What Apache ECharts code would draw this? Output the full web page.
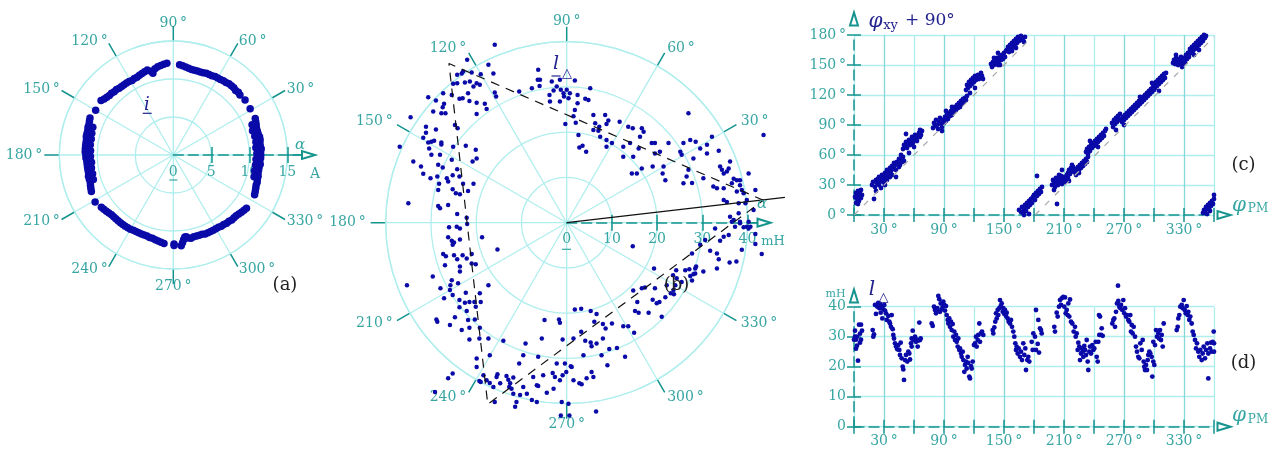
<!DOCTYPE html>
<html>
<head>
<meta charset="utf-8">
<script src="https://cdn.jsdelivr.net/npm/echarts@6/dist/echarts.min.js"></script>
<style>
html,body{margin:0;padding:0;background:#fff}
#chart{width:1281px;height:455px}
</style>
</head>
<body>
<div id="chart"></div>
<script>
// ---------- (a) current space vector i: [angle in degrees, magnitude in A] ----------
const iSegUpperRight = [[86,11.9],[84,11.8],[82,11.7],[80,11.6],[78,11.5],[76,11.5],[74,11.5],[72,11.5],[70,11.5],[68,11.6],[66,11.6],[64,11.6],[62,11.7],[60,11.7],[58,11.7],[56,11.8],[54,11.8],[52,11.9],[50,11.9],[48,11.9],[46,11.8],[44,11.9],[42,11.8],[37.5,11.9],[31,11.8]];
const iSegRight = [[24,11.8],[22,11.7],[20,11.6],[18,11.5],[16,11.5],[14,11.5],[12,11.6],[10,11.6],[8,11.5],[6,11.5],[4,11.6],[2,11.5],[0,11.5],[-2,11.5],[-4,11.4],[-6,11.5],[-8,11.4],[-10,11.4],[-12,11.4],[-14,11.5],[-16,11.5],[-18,11.6],[-20,11.6],[-22,11.7],[-24,11.8],[-26,11.9],
  [21,11.1],[17,10.9],[13,11.0],[9,11.0],[5,10.9],[1,11.0],[-3,10.9],[-7,10.9],[-11,10.9],[-15,11.0]];
const iSegLowerRight = [[275,12.0],[276,11.6],[277,11.2],[278,10.9],[279,10.9],[280,11.1],[282,11.2],[284,11.1],[286,11.1],[288,11.1],[290,11.1],[292,11.2],[294,11.2],[296,11.2],[298,11.2],[300,11.2],[302,11.2],[304,11.3],[306,11.3],[308,11.4],[310,11.4],[312,11.5],[314,11.5],[316,11.5],[318,11.6],[320,11.7],[322,11.8],[324,11.9]];
const iSegLowerLeft = [[211,12.0],[216,11.7],[218,11.6],[220,11.5],[222,11.4],[224,11.3],[226,11.3],[228,11.3],[230,11.3],[232,11.3],[234,11.3],[236,11.3],[238,11.3],[240,11.3],[242,11.2],[244,11.2],[246,11.2],[248,11.2],[250,11.2],[252,11.2],[254,11.3],[256,11.3],[258,11.4],[260,11.5],[262,11.6],[264,11.7],[270.5,11.7],[270.5,11.9]];
const iSegLeft = [[150,11.8],[156,12.0],[158,11.9],[160,11.8],[162,11.8],[164,11.7],[166,11.7],[168,11.7],[170,11.6],[172,11.6],[174,11.6],[176,11.6],[178,11.6],[180,11.5],[182,11.5],[184,11.4],[186,11.4],[188,11.4],[190,11.4],[192,11.4],[194,11.5],[196,11.5],[198,11.5],[200,11.6],[202,11.7],[204,11.8],
  [161,11.2],[165,11.1],[169,11.0],[173,11.0],[177,10.9],[181,10.9],[185,10.8],[189,10.9],[193,10.9],[197,11.0]];
const iSegUpperLeft = [[143,11.9],[141,11.7],[139,11.6],[137,11.5],[135,11.5],[133,11.4],[131,11.4],[129,11.3],[127,11.3],[125,11.3],[123,11.3],[121,11.3],[119,11.2],[117,11.3],[115,11.3],[113,11.4],[111,11.5],[109,11.6],[107,11.7],[105,11.4],[104,11.1],[102,11.6],[100,11.8],[98,11.9],[96,12.0],[94,12.1]];

// ---------- (b) inductance vector l_delta: [alpha, beta] components in mH ----------
const lUpperLeft = [[-15.9,39.3],[-22.0,36.0],[-17.3,34.9],[-19.0,32.8],[-16.2,33.0],[-22.9,33.4],[-21.0,33.2],[-24.2,32.7],[-23.2,33.0],[-25.1,30.7],[-24.2,30.8],[-22.5,31.0],[-21.4,31.2],[-19.9,30.8],[-19.2,30.5],[-20.6,30.1],[-21.8,28.6],[-23.0,27.5],[-23.7,27.4],[-25.4,28.2],[-27.3,28.6],[-30.6,27.7],[-28.9,27.0],[-27.1,26.3],[-27.4,25.5],[-27.7,24.2],[-26.8,24.2],[-29.5,24.6],[-21.5,26.9],[-19.9,26.5],[-18.1,26.3],[-17.7,25.1],[-19.9,24.0],[-24.7,21.6],[-24.1,20.9],[-31.1,21.2],[-31.1,19.9],[-28.9,20.6],[-31.7,18.8],[-30.6,17.7],[-29.9,17.9],[-29.3,18.1],[-27.7,17.7],[-27.7,17.3],[-30.4,16.4],[-25.1,16.8],[-22.3,17.0],[-20.1,16.1],[-19.9,14.2],[-20.8,13.5],[-29.9,15.0],[-28.0,15.0],[-33.9,13.5],[-32.2,12.4],[-28.4,12.8],[-27.4,12.2],[-25.4,13.9],[-24.2,11.8],[-25.2,10.5],[-23.7,10.2],[-31.7,10.8],[-30.1,9.8],[-28.6,10.2],[-26.5,9.8],[-26.2,9.1],[-28.2,8.6],[-22.9,8.6],[-20.6,8.6],[-28.4,7.2],[-25.2,7.4],[-24.5,6.5],[-23.6,6.3],[-21.8,7.0],[-35.0,4.3],[-28.4,3.7],[-28.0,3.2],[-26.2,3.9],[-24.2,1.9],[-22.1,1.1],[-36.9,16.8],[-34.5,23.3],[-10.5,29.0],[-15.9,28.8],[-15.6,27.9]];
const lUpperRight = [[-6.3,33.8],[-6.4,31.6],[-5.9,31.6],[-6.0,30.2],[-7.7,29.7],[-3.3,31.2],[-2.9,29.2],[-2.2,30.1],[-1.5,31.6],[-1.3,29.4],[-0.7,28.6],[-0.6,27.9],[0,29.4],[0.7,28.6],[0.4,27.5],[1.8,31.4],[2.4,28.2],[2.4,26.4],[1.8,24.9],[-3.8,28.2],[-3.7,26.8],[-1.5,26.8],[-0.3,21.8],[1.5,23.5],[2.0,22.1],[2.6,19.4],[2.8,16.6],[3.5,17.0],[4.3,15.7],[5.2,29.7],[4.1,27.4],[4.8,27.1],[5.9,23.8],[6.3,22.0],[8.5,23.8],[8.8,21.8],[9.2,22.6],[7.2,21.2],[5.9,20.5],[7.4,19.0],[8.8,18.3],[10.0,17.6],[8.8,16.8],[7.0,20.3],[11.7,22.3],[13.6,21.2],[14.6,20.9],[16.6,20.9],[17.0,20.1],[16.2,19.0],[14.0,17.6],[12.5,16.8],[15.9,16.4],[18.8,17.6],[19.5,17.6],[20.6,15.7],[22.5,17.6],[19.5,15.3],[12.5,14.6],[14.7,14.6],[15.5,10.9],[14.4,10.9],[16.6,12.0],[19.0,12.4],[21.4,12.4],[21.2,10.9],[21.8,9.4],[25.1,15.7],[25.8,17.6],[26.9,24.2],[25.4,15.0],[27.3,18.3],[28.5,17.9],[29.5,16.4],[31.0,17.2],[31.0,15.3],[33.6,15.9],[28.0,14.2],[26.9,11.7],[26.5,10.2],[27.7,8.8],[25.8,8.7],[32.1,19.0],[30.2,9.8],[33.9,12.4],[34.3,11.7],[34.7,10.9],[35.8,12.0],[36.1,13.5],[35.4,11.3],[36.9,9.7],[37.6,9.4],[38.3,9.4],[36.5,8.7],[38.3,8.3],[38.7,7.2],[39.1,6.5],[39.8,5.0],[39.5,4.3],[38.0,4.3],[35.4,4.6],[34.7,5.0],[40.2,10.9],[41.7,7.2],[37.6,6.9],[32.4,8.0],[33.2,7.6],[34.7,7.6],[43.5,19.4],[36.1,1.3],[36.9,0.6],[38.3,0.2],[38.0,2.1],[41.3,2.8]];
const lLower = [[-26.0,-1.0],[-24.3,-0.9],[-23.6,-1.3],[-22.0,-0.3],[-26.2,-3.2],[-25.4,-4.0],[-24.9,-4.4],[-23.6,-3.7],[-25.2,-4.9],[-27.3,-6.9],[-26.7,-7.4],[-24.9,-7.2],[-23.0,-7.2],[-21.0,-6.9],[-24.2,-8.1],[-22.1,-7.9],[-21.0,-9.0],[-20.1,-9.2],[-26.9,-9.4],[-23.6,-9.7],[-23.6,-10.8],[-29.6,-11.9],[-25.4,-12.7],[-25.7,-13.8],[-24.0,-13.4],[-25.8,-14.9],[-27.9,-14.5],[-27.1,-16.7],[-25.2,-16.0],[-22.3,-15.5],[-19.2,-15.6],[-17.3,-13.8],[-23.7,-17.1],[-22.5,-17.7],[-21.5,-17.5],[-20.4,-17.5],[-19.0,-17.5],[-23.7,-18.7],[-22.1,-19.5],[-20.1,-18.6],[-21.8,-21.5],[-20.3,-21.4],[-28.8,-21.4],[-28.6,-21.9],[-24.7,-20.9],[-25.8,-22.6],[-23.2,-23.7],[-21.5,-23.2],[-19.2,-23.2],[-19.3,-25.6],[-17.3,-25.6],[-21.5,-25.8],[-19.9,-30.0],[-19.9,-31.9],[-17.0,-29.3],[-14.0,-26.1],[-15.3,-5.9],[-18.7,-3.2],[-35.3,-13.8],[-29.1,-37.4],[-26.2,-34.4],[-25.2,-33.3],[-19.3,-35.0],[-19.0,-35.2],[-18.4,-33.7],[-17.7,-34.8],[-17.0,-35.4],[-15.5,-34.1],[-16.2,-36.3],[-15.9,-39.6],[-14.7,-35.5],[-15.3,-33.5],[-13.3,-33.9],[-12.9,-34.7],[-12.5,-35.5],[-12.2,-36.7],[-11.8,-34.2],[-12.7,-36.3],[-11.8,-37.8],[-11.1,-39.6],[-10.3,-38.1],[-11.4,-40.7],[-9.6,-36.3],[-8.8,-37.8],[-7.7,-39.2],[-6.6,-39.6],[-7.4,-34.1],[-6.6,-35.9],[-6.3,-36.1],[-5.2,-33.7],[-4.4,-37.6],[-3.1,-33.2],[-2.9,-36.7],[-2.6,-34.1],[-2.2,-31.1],[-1.5,-34.8],[-1.1,-39.6],[-0.4,-31.1],[-0.1,-33.0],[-0.9,-33.7],[0.4,-40.0],[0.9,-31.7],[1.1,-31.9],[1.5,-34.8],[0.6,-42.6],[-1.3,-42.6],[3.3,-35.7],[4.4,-34.4],[3.7,-29.3],[6.5,-41.7],[2.8,-35.5],[5.5,-33.0],[5.9,-34.1],[-9.6,-29.3],[-10.5,-31.1],[-6.3,-29.6],[-5.5,-25.6],[-9.1,-26.7],[-4.9,-21.5],[-1.7,-21.4],[-1.5,-22.1],[-0.9,-25.8],[1.5,-25.6],[1.8,-19.2],[3.2,-19.0],[5.3,-19.5],[6.6,-20.2],[3.2,-24.1],[4.1,-26.1],[5.3,-26.5],[6.6,-26.7],[5.5,-27.3],[6.1,-21.9],[8.0,-22.4],[8.6,-23.4],[10.0,-22.3],[8.0,-25.6],[9.4,-27.9],[11.1,-27.7],[7.7,-29.3],[9.0,-31.5],[12.5,-22.9],[13.6,-22.9],[14.9,-24.3],[12.9,-29.6]];
const lLowerRight = [[14.6,-5.2],[19.3,-10.1],[14.7,-15.0],[16.6,-14.5],[17.3,-14.3],[15.6,-17.5],[15.1,-19.5],[15.9,-19.9],[18.1,-19.9],[19.0,-17.0],[19.5,-14.5],[19.9,-17.8],[20.5,-17.5],[21.0,-20.8],[21.8,-16.5],[22.1,-13.8],[23.0,-15.6],[23.6,-14.9],[24.0,-13.8],[24.2,-10.5],[23.5,-11.6],[24.3,-12.3],[23.7,-15.8],[25.4,-13.1],[26.2,-10.5],[27.1,-10.3],[27.3,-11.8],[27.7,-12.8],[28.4,-10.1],[28.6,-9.7],[28.4,-11.2],[28.0,-11.4],[30.2,-10.8],[31.7,-6.2],[33.2,-6.8],[33.2,-10.1],[33.6,-8.1],[36.0,-8.8],[37.5,-8.6],[32.8,-1.3],[35.8,-2.7],[37.2,-0.9],[38.3,-0.1],[39.1,-1.0],[39.8,-0.9],[40.2,-1.3],[40.6,-0.9],[41.7,-2.5],[41.7,-4.7],[43.1,-6.9],[38.7,-6.0],[36.5,0.2],[40.2,0.2],[33.9,-4.0],[34.7,-3.1],[27.7,-6.8],[29.5,-4.9],[30.6,-3.8]];

// idealised inductance triangle (radius mH, angle deg) and the reference direction
const triangleR = [43.8, 43.8, 43.8, 43.8];
const triangleAngle = [6.5, 126.5, 246.5, 6.5];
const refRayR = [0, 48.6];
const refRayAngle = [6.6, 6.6];

// ---------- (c) phi_xy + 90 deg versus phi_PM: [phi_PM, value] in degrees ----------
const phiXY = [
 [1,18],[2,22],[3,16],[3,20],[4,24],[5,19],[5,14],[6,21],[7,17],[7,25],[8,20],[2,12],[4,11],[6,18],
 [18,30],[19,33],[20,16],[21,28],[22,35],[23,32],[24,36],[25,30],[25,38],[26,34],[27,27],[28,36],[28,40],[29,33],[30,37],[31,30],[31,42],[32,38],[33,35],[34,44],[35,40],[36,38],[22,24],[27,38],[30,34],
 [32,40],[33,45],[35,42],[36,47],[37,44],[38,49],[39,46],[40,48],[40,52],[41,50],[42,45],[43,53],[44,51],[45,56],[46,50],[47,55],[48,53],[49,58],[50,54],[38,40],[42,38],[45,48],[47,60],[34,38],
 [49,66],[50,70],[51,68],[52,73],[53,67],[54,71],[55,75],[56,70],[57,74],[58,78],[59,72],[60,76],[61,80],[62,77],[63,74],[64,79],[65,82],[66,78],[67,80],[68,84],[52,81],[55,62],[60,68],[66,85],
 [79,87],[80,92],[81,89],[82,95],[83,90],[84,86],[85,93],[86,97],[87,91],[88,88],[89,95],[90,92],[91,98],[92,94],[93,100],[94,96],[95,102],[96,99],[97,104],[98,100],[99,106],[100,103],[101,108],[102,105],[103,110],[104,107],[105,112],[106,108],[107,114],[108,111],[109,116],[110,113],[111,117],[112,115],[113,119],[88,84],[92,104],[98,108],
 [112,125],[113,130],[114,127],[115,133],[116,129],[117,135],[118,131],[119,137],[120,133],[121,139],[122,135],[123,137],[124,140],[125,136],[126,138],[127,142],[128,139],[129,136],[116,122],[121,127],
 [137,151],[138,148],[139,153],[140,150],[141,155],[142,152],[143,157],[144,150],[145,154],[146,158],[147,155],[148,160],[149,156],[150,162],[151,158],[152,164],[140,157],[144,162],[146,150],
 [153,165],[154,168],[155,163],[156,170],[157,166],[158,172],[159,168],[160,174],[161,170],[162,176],[163,172],[164,178],[165,174],[166,176],[167,179],[168,175],[169,177],[170,173],[171,178],[158,164],[162,167],
 [165,5],[167,3],[168,8],[169,2],[170,6],[171,10],[172,4],[173,12],[174,8],[175,14],[176,10],[177,16],[178,12],[179,18],[180,20],[181,15],[182,22],[183,19],[184,24],[185,21],[186,26],[187,23],[188,28],[183,39],[170,0],[175,1],
 [198,30],[199,35],[200,32],[201,28],[202,37],[203,33],[204,30],[205,36],[206,34],[207,39],[208,31],[209,35],[210,38],[211,33],[212,36],[213,40],[214,37],[215,34],[203,11],[200,25],[205,40],[208,45],
 [214,42],[215,45],[216,41],[217,47],[218,44],[219,48],[220,43],[221,46],[222,40],[223,44],[224,48],[225,45],[226,50],[227,47],[228,52],[229,49],[230,54],[231,51],[232,56],[233,53],[234,58],[218,50],[225,42],
 [232,63],[233,66],[234,61],[235,68],[236,64],[237,70],[238,67],[239,72],[240,69],[241,74],[242,71],[243,76],[244,73],[245,78],[246,75],[247,80],[248,77],[249,82],[250,79],[251,84],[252,86],[236,74],[244,68],
 [258,92],[259,88],[260,95],[261,91],[262,97],[263,93],[264,99],[265,95],[266,101],[267,96],[268,93],[269,98],[270,95],[271,100],[272,97],[273,102],[274,99],[275,104],[276,101],[277,106],[278,103],[279,108],[280,105],[281,110],[282,107],[283,112],[284,109],[285,114],[286,111],[262,85],[270,90],
 [287,116],[288,113],[289,118],[290,115],[291,120],[292,117],[293,122],[294,119],[295,124],[296,121],[297,126],[298,123],[299,128],[300,125],[286,118],
 [300,130],[301,127],[302,133],[303,129],[304,135],[305,131],[306,137],[307,133],[308,139],[309,135],[310,141],[311,137],[312,142],[305,124],[298,132],
 [319,152],[320,155],[321,151],[322,157],[323,153],[324,150],[325,156],[326,152],[327,158],[328,154],[329,151],[330,157],[331,153],[332,160],[333,156],[334,162],[335,158],[336,164],[322,160],[328,148],
 [336,166],[337,162],[338,168],[339,164],[340,170],[341,166],[342,172],[343,168],[344,174],[345,170],[346,176],[347,172],[348,178],[349,174],[350,180],[351,177],[352,179],[340,160],[345,165],
 [349,2],[350,5],[351,3],[352,8],[353,6],[354,10],[355,7],[356,12],[357,9],[358,14],[359,11],[360,16],[360,20],[353,1],[356,4]
];
// guide lines phi_xy + 90 = phi_PM (mod 180)
const guideA = [[0,0],[178,178]];
const guideB = [[181,0],[360,178]];

// ---------- (d) |l_delta| versus phi_PM: [phi_PM deg, mH] ----------
const lDelta = [
 [1,32],[2,29],[3,27],[2,26],[4,22],[5,34],[6,31],[7,29],[8,32],[1,30],[3,30],[6,28],[7,34],[0,29],
 [18.7,32.2],[19.3,30],[20,30.8],[21,40.6],[22,37.6],[23.3,40],[24.3,41.3],[25.3,39.5],[26,40.9],[26.7,38],[27.7,40],[28.3,36.1],[29.3,39.1],[30.3,40.6],[31,38.7],[32,37.8],[32.7,35.6],[34.3,36.9],[35.3,35],[36,34.4],[37,33.3],[37.7,37.2],[38.7,32.5],[39.3,30.6],[40,29.4],[41,27.8],
 [42,26.7],[43.3,25.8],[44.3,27.2],[45.3,25.6],[46,23.9],[46.7,28],[47.7,22.8],[48.7,20],[49.3,19.1],[50,15.6],[51,22.2],[52,23.9],[53.3,21.7],[54.3,25],[55.3,24.4],[56,22.4],[57,27.8],[57.7,26.7],
 [57.7,29.4],[58.7,32],[59.3,28.9],[61,30],[62,28.3],[62.7,29.1],[63.7,26.7],[64.3,28.7],[65.3,34.7],[66,28.9],[66.7,29.4],
 [77.7,34.4],[78.7,33.6],[80,40],[81,38.9],[82,37.8],[82.7,38.7],[83.3,39.5],[84.3,43.6],[85.3,42.5],[86,38.3],[86.7,41.1],[87.7,39.1],[88.7,40],[89.3,41.7],[90.3,40.6],[91,38.7],[92,40.2],
 [92.7,37.2],[93.7,35.6],[94.3,34.4],[95.3,36.1],[96,33.3],[97,35],[97.7,32.2],[98.7,34.2],[99.3,30],[100.3,31.7],[101,28.9],[102,30.6],[102.7,28.3],[103.7,26.7],[104.3,29.4],[105.3,25.6],[106,26.1],[107,24.4],[107.7,23.3],[108.7,25],[109.3,22.2],[110.3,18.3],[111,20.6],[112,21.7],[112.7,19.4],[113.7,23.3],[114.3,21.3],[115.3,16.7],[116,16.1],[117,20.2],[117.7,19.4],[118.7,21.7],
 [120,27.2],[121,27.8],[122,30],[122.7,26.7],[123.7,28.9],[124.3,30.6],[125.3,34.4],[126,28.3],[127,31.1],[128,31.7],[129.3,30.6],
 [138.7,32.2],[139.3,31.1],[140.3,33.1],[141.3,35],[142,37.8],[142.7,36.1],[143.7,38.9],[144.3,37.2],[145.3,39.5],[146,42.2],[146.7,40.2],[147.7,41.1],[148.7,38.3],[149.3,39.5],[150.3,37.6],[151,38.9],[152,36.9],[152.7,38],
 [153.7,36.1],[154.7,35],[156,34.4],[157,35.6],[158,33.3],[159.3,31.7],[160.3,30],[161.3,27.8],[162,25.6],[162.7,26.7],[163.7,24.4],[164.7,26.1],[166,23.3],[167,25],[168,22.2],[169.3,27.8],[170.3,23.9],[171.3,26.1],[172,18.9],[173.3,22.2],[174.3,23.3],[175.3,21.7],
 [177.7,28.3],[179.3,31.1],[181,30],[178.7,25.6],[182,38.9],[184.3,35.6],[186,32.8],[187.7,31.1],[183.7,27.6],[185,24.7],[182,25.6],[187,32.2],
 [200.3,33.3],[201,31.7],[202.7,38],[203.7,36.7],[205,40],[206,42.2],[207,40.6],[207.7,42.8],[209.3,43.3],[210.3,40],[211,43.1],[211.7,37.8],[212.7,38.9],[213.7,37.2],[214.3,41.1],[215.3,36.7],[216,42.4],
 [217,35],[218.3,34.4],[219.7,31.7],[221,33.3],[221.7,30],[222.7,31.1],[223.7,25.6],[224.3,28],[225.3,26.7],[226,22.2],[227,24.4],[227.7,26.1],[228.7,25],[229.3,23.3],[230.3,26.9],[231,25.6],[232,23.9],[232.7,28.9],[233.7,21.7],[234.3,18.9],[235.3,25],[236,26.7],[237,24.4],[238.3,27.2],[239.3,25.6],[240.3,26.1],[241.7,28.3],[242.7,23.3],[243.7,21.7],[244.3,28.3],
 [245.3,30.6],[246,36.7],[247,30.6],[247.7,32.8],[248.7,30.3],[245,37.2],
 [258.3,34.4],[259.3,35.6],[260.3,36.1],[261,33.3],[262,38.3],[263,41.1],[264.3,41.9],[265.3,40],[266.3,39.5],[267,40.6],[268.3,38.9],[269.3,42.2],[270.3,37.8],[271,39.5],[272,36.7],[273,37.2],[274.3,35.6],[275.3,35],[276.3,37.2],[277,31.7],[277.7,33.9],[278.7,31.1],[279.7,33.3],[264,47],
 [281,30],[282,26.7],[283,25],[284.3,23.3],[285.3,22.8],[286.3,27.8],[287.7,25.6],[288.7,28.9],[289.7,21.7],[290.3,20],[291,18.9],[292,20.6],[293,18.9],[293.7,22.2],[294.3,23.9],[295.3,25],[296.3,24.4],[297.7,23.3],[298.3,16.7],[299.3,21.7],[300.3,20.6],
 [299.3,28.3],[301,27.2],[302,32.2],[303,30],[304.3,31.1],[305,29.4],[306,32.2],[307,28.9],[307.7,30.6],[308.7,26.7],[309.7,34.4],
 [322.7,32.2],[323.7,33.3],[324.3,36.1],[325.3,37.2],[326.3,40],[327.7,40.6],[328.7,39.5],[329.7,42.2],[330.7,38.9],[331.7,37.8],[332.7,40.2],[333.7,37.2],[334.3,38.3],[335.3,35.6],[336.3,36.7],[337.7,34.4],
 [338.7,31.7],[339.7,30.6],[341,28.9],[342,26.1],[343,27.8],[344.3,25],[345.3,23.3],[346.3,25.6],[347.7,22.2],[348.7,24.4],[349.7,26.7],[351,22.8],[354.3,16.1],
 [352,25.6],[353.3,27.8],[354.3,24.4],[356,26.1],[357,28],[357.7,25],[358.7,28.3],[359.7,31.7],[360,27.8],[360,25]
];

// axis ticks and labels
const iTicks = [5, 10, 15];
const lTicks = [10, 20, 30, 40];

// ---------- styling ----------
const GRID_LIGHT = '#b0eeee';
const GRID_MID = '#84d8d6';
const AXIS_DARK = '#14948e';
const TICK_TEXT = '#37a6a2';
const DOT = '#0a0aa8';
const NAVY = '#22228e';
const SERIF = '"DejaVu Serif", serif';
const deg = v => v + '\u2009°';
const norm = a => ((a % 360) + 360) % 360;
const rad = a => a * Math.PI / 180;

// polar data
const ringData = [iSegUpperRight, iSegRight, iSegLowerRight, iSegLowerLeft, iSegLeft, iSegUpperLeft]
  .flat().map(([a, r]) => [r, norm(a)]);
const lData = [lUpperLeft, lUpperRight, lLower, lLowerRight].flat()
  .map(([x, y]) => [Math.hypot(x, y), norm(Math.atan2(y, x) * 180 / Math.PI)]);
// triangle and ray reach beyond the 40 mH rim, so they go on an unclipped alpha/beta plane
const triXY = triangleR.map((r, i) => [r * Math.cos(rad(triangleAngle[i])), r * Math.sin(rad(triangleAngle[i]))]);
const rayXY = refRayR.map((r, i) => [r * Math.cos(rad(refRayAngle[i])), r * Math.sin(rad(refRayAngle[i]))]);

function angleAxis(polarIndex, margin) {
  return {
    polarIndex, type: 'value', min: 0, max: 360, interval: 30, startAngle: 0, clockwise: false,
    axisLine: { show: true, lineStyle: { color: GRID_LIGHT, width: 1.3 } },
    axisTick: { show: true, length: 15, lineStyle: { color: AXIS_DARK, width: 1.5 } },
    splitLine: { show: true, lineStyle: { color: GRID_LIGHT, width: 1.3 } },
    axisLabel: { show: true, margin, color: TICK_TEXT, fontFamily: SERIF, fontSize: 14, lineHeight: 1,
      formatter: v => (v % 360 === 0 ? '' : deg(v)) }
  };
}
function radiusAxis(polarIndex, max, interval) {
  return {
    polarIndex, type: 'value', min: 0, max, interval,
    axisLine: { show: false }, axisTick: { show: false }, axisLabel: { show: false },
    splitLine: { show: true, lineStyle: { color: GRID_LIGHT, width: 1.3 } }
  };
}
const tickLine = { color: AXIS_DARK, width: 1.5 };
// horizontal magnitude axis drawn through the pole of a polar diagram
function poleAxes(gridIndex, max, ticks) {
  return [{
    type: 'value', gridIndex, min: 0, max, position: 'bottom',
    axisLine: { show: true, onZero: false, lineStyle: { color: AXIS_DARK, width: 1.5, type: [10, 5] },
      symbol: ['none', 'emptyTriangle'], symbolSize: [8, 13] },
    axisTick: { show: true, customValues: ticks, length: 8, lineStyle: tickLine },
    axisLabel: { show: true, customValues: [0].concat(ticks), margin: 10, color: TICK_TEXT, fontFamily: SERIF, fontSize: 14 },
    splitLine: { show: false }
  }, {
    type: 'value', gridIndex, min: 0, max, position: 'bottom',
    axisLine: { show: false }, axisLabel: { show: false }, splitLine: { show: false },
    axisTick: { show: true, inside: true, customValues: ticks, length: 8, lineStyle: tickLine }
  }];
}
function phiAxes(gridIndex) {
  return [{
    type: 'value', gridIndex, min: 0, max: 360, interval: 30, position: 'bottom',
    axisLine: { show: true, onZero: false, lineStyle: { color: AXIS_DARK, width: 1.5, type: [10, 5] },
      symbol: ['none', 'emptyTriangle'], symbolSize: [8, 13], symbolOffset: [0, 10] },
    axisTick: { show: true, length: 7, lineStyle: tickLine },
    axisLabel: { show: true, margin: 8, color: TICK_TEXT, fontFamily: SERIF, fontSize: 14,
      formatter: v => (v % 60 === 30 ? deg(v) : '') },
    splitLine: { show: true, lineStyle: { color: [GRID_LIGHT, GRID_MID], width: 1.3 } }
  }, {
    type: 'value', gridIndex, min: 0, max: 360, interval: 30, position: 'bottom',
    axisLine: { show: false }, axisLabel: { show: false }, splitLine: { show: false },
    axisTick: { show: true, inside: true, length: 7, lineStyle: tickLine }
  }];
}
function valueAxes(gridIndex, max, interval, fmt, arrowOffset) {
  return [{
    type: 'value', gridIndex, min: 0, max, interval, position: 'left',
    axisLine: { show: true, onZero: false, lineStyle: { color: AXIS_DARK, width: 1.5, type: [10, 5] },
      symbol: ['none', 'emptyTriangle'], symbolSize: [8, 13], symbolOffset: [0, arrowOffset] },
    axisTick: { show: true, length: 7, lineStyle: tickLine },
    axisLabel: { show: true, margin: 8, color: TICK_TEXT, fontFamily: SERIF, fontSize: 14, formatter: fmt },
    splitLine: { show: true, lineStyle: { color: GRID_LIGHT, width: 1.3 } }
  }, {
    type: 'value', gridIndex, min: 0, max, interval, position: 'left',
    axisLine: { show: false }, axisLabel: { show: false }, splitLine: { show: false },
    axisTick: { show: true, inside: true, length: 7, lineStyle: tickLine }
  }];
}
const hiddenAxis = (gridIndex, min, max) => ({ type: 'value', gridIndex, min, max, show: false });

function txt(x, y, text, font, fill, align) {
  align = align || 'center';
  return { type: 'text', x, y, z: 100,
    style: { text, font, fill, textAlign: align, align, textVerticalAlign: 'middle', verticalAlign: 'middle' } };
}
function rule(x1, x2, y, stroke) {
  return { type: 'line', z: 100, shape: { x1, y1: y, x2, y2: y }, style: { stroke, lineWidth: 1.2 } };
}
const dotStyle = { color: DOT, opacity: 1 };

const option = {
  animation: false,
  backgroundColor: '#fff',
  polar: [
    { center: [173.3, 155], radius: 114 },
    { center: [566.7, 222.7], radius: 181 }
  ],
  angleAxis: [angleAxis(0, 17), angleAxis(1, 20)],
  radiusAxis: [radiusAxis(0, 15, 5), radiusAxis(1, 40, 10)],
  grid: [
    { left: 173.3, top: 145, width: 135.2, height: 10 },
    { left: 566.7, top: 212.7, width: 197.3, height: 10 },
    { left: 854, top: 35, width: 360, height: 180 },
    { left: 854, top: 306.7, width: 360, height: 120 },
    // alpha/beta plane of diagram (b), 4.52 px per mH, centred on its pole
    { left: 345.22, top: 1.22, width: 442.96, height: 442.96 }
  ],
  xAxis: [].concat(poleAxes(0, 17.79, iTicks), poleAxes(1, 43.65, lTicks), phiAxes(2), phiAxes(3),
    [hiddenAxis(4, -49, 49)]),
  yAxis: [hiddenAxis(0, 0, 1), hiddenAxis(1, 0, 1)].concat(
    valueAxes(2, 180, 30, deg, 16),
    valueAxes(3, 40, 10, v => String(v), 10.7),
    [hiddenAxis(4, -49, 49)]),
  series: [
    { type: 'scatter', coordinateSystem: 'polar', polarIndex: 0, data: ringData, symbolSize: 7.5,
      itemStyle: dotStyle, clip: false, silent: true },
    { type: 'line', xAxisIndex: 8, yAxisIndex: 6, data: triXY, symbol: 'none', clip: false,
      lineStyle: { color: '#111', width: 1.2, type: [9, 7] }, silent: true },
    { type: 'line', xAxisIndex: 8, yAxisIndex: 6, data: rayXY, symbol: 'none', clip: false,
      lineStyle: { color: '#111', width: 1.2 }, silent: true },
    { type: 'scatter', coordinateSystem: 'polar', polarIndex: 1, data: lData, symbolSize: 4.5,
      itemStyle: dotStyle, clip: false, silent: true },
    { type: 'line', xAxisIndex: 4, yAxisIndex: 2, data: guideA, symbol: 'none',
      lineStyle: { color: '#a8a8a8', width: 1.2, type: [6, 8] }, silent: true },
    { type: 'line', xAxisIndex: 4, yAxisIndex: 2, data: guideB, symbol: 'none',
      lineStyle: { color: '#a8a8a8', width: 1.2, type: [6, 8] }, silent: true },
    { type: 'scatter', xAxisIndex: 4, yAxisIndex: 2, data: phiXY, symbolSize: 4.8,
      itemStyle: dotStyle, clip: false, silent: true },
    { type: 'scatter', xAxisIndex: 6, yAxisIndex: 4, data: lDelta, symbolSize: 4.8,
      itemStyle: dotStyle, clip: false, silent: true }
  ],
  graphic: [
    // (a)
    txt(147, 105, 'i', 'italic 18px ' + SERIF, NAVY),
    rule(142.7, 151.7, 113.3, NAVY),
    rule(169.3, 177.3, 180, TICK_TEXT),
    txt(300, 145, 'α', 'italic 15px ' + SERIF, TICK_TEXT),
    txt(315, 174, 'A', '14px ' + SERIF, TICK_TEXT),
    txt(285, 285, '(a)', '18px ' + SERIF, '#222'),
    // (b)
    txt(556, 64, 'l', 'italic 19px ' + SERIF, NAVY),
    rule(551.5, 560.5, 76, NAVY),
    txt(567, 73.5, '△', '13px "DejaVu Sans"', NAVY),
    rule(562, 571, 249.3, TICK_TEXT),
    txt(762, 204, 'α', 'italic 15px ' + SERIF, TICK_TEXT),
    txt(773, 242, 'mH', '13px ' + SERIF, TICK_TEXT),
    txt(676.5, 285, '(b)', '18px ' + SERIF, '#222'),
    // (c)
    txt(875.5, 22, 'φ', 'italic 20px ' + SERIF, NAVY),
    txt(890.5, 26, 'xy', '13px ' + SERIF, NAVY),
    txt(905, 21, '+ 90°', '17px ' + SERIF, NAVY, 'left'),
    txt(1239, 205.5, 'φ', 'italic 20px ' + SERIF, TICK_TEXT),
    txt(1258, 209, 'PM', '12px ' + SERIF, TICK_TEXT),
    txt(1243.5, 165, '(c)', '18px ' + SERIF, '#222'),
    // (d)
    txt(835.5, 294, 'mH', '11px ' + SERIF, TICK_TEXT),
    txt(872, 290, 'l', 'italic 20px ' + SERIF, NAVY),
    txt(883.5, 297.5, '△', '13px "DejaVu Sans"', NAVY),
    txt(1239, 416, 'φ', 'italic 20px ' + SERIF, TICK_TEXT),
    txt(1258, 420, 'PM', '12px ' + SERIF, TICK_TEXT),
    txt(1243.5, 363, '(d)', '18px ' + SERIF, '#222')
  ]
};

const chart = echarts.init(document.getElementById('chart'), null, { renderer: 'canvas' });
chart.setOption(option);
</script>
</body>
</html>
